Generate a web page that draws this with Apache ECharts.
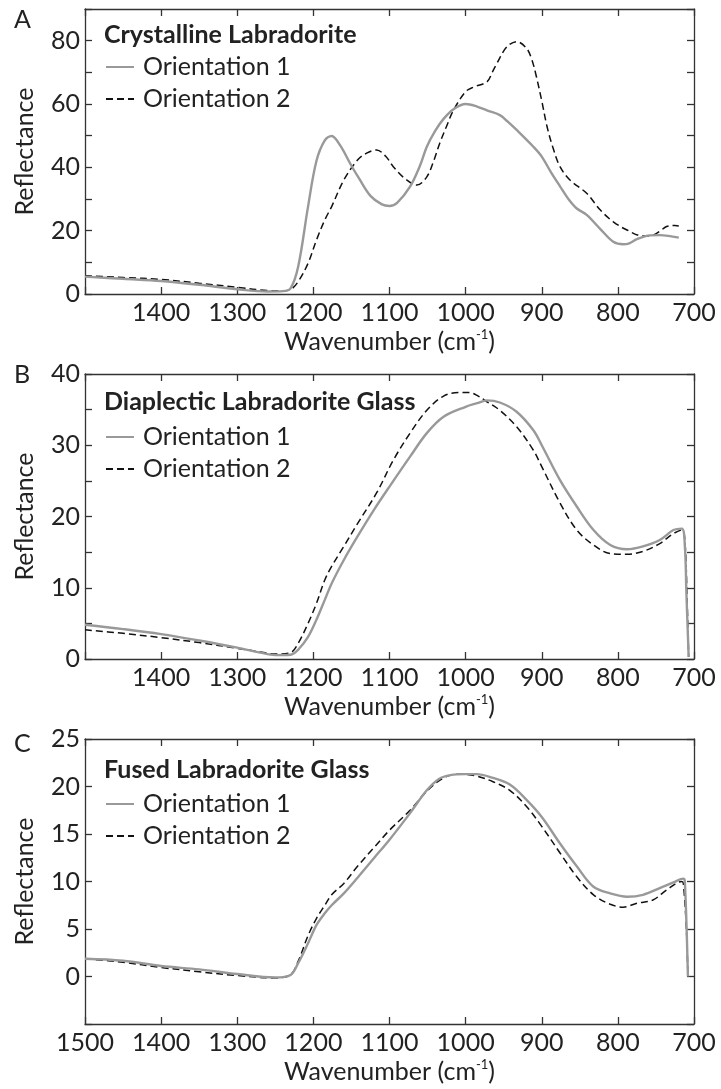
<!DOCTYPE html>
<html lang="en">
<head>
  <meta charset="UTF-8">
  <title>Labradorite reflectance</title>
  <style>
    * { margin: 0; padding: 0; }
    body { background: #fff; }
    #chart { width: 721px; height: 1089px; }
  </style>
</head>
<body>
  <div id="chart"></div>
  <script src="https://cdn.jsdelivr.net/npm/echarts@6/dist/echarts.min.js"></script>
  <script>
    // 数据：波数 / 反射率
    const wnA1 = [1500, 1450, 1400, 1350, 1300, 1260, 1240, 1230, 1220, 1207, 1196, 1185, 1176, 1165, 1150, 1140, 1125, 1110, 1100, 1090, 1073, 1060, 1051, 1040, 1029, 1015, 1000, 985, 972, 955, 945, 933, 911, 900, 888, 876, 865, 854, 841, 823, 806, 793, 785, 775, 758, 745, 730, 720];
    const rA1 = [5.5, 4.8, 4.1, 2.9, 1.5, 0.8, 0.9, 1.8, 8.6, 27.6, 42, 48.5, 49.9, 47, 40.5, 36.5, 31, 28.3, 27.8, 28.8, 33.9, 40.5, 46.5, 51.5, 55.3, 58.5, 60, 59.2, 58, 56.5, 54.5, 51.8, 46.5, 43.4, 38.5, 34, 30, 27, 25, 20.5, 16.5, 15.7, 16, 17.3, 18.5, 18.6, 18.2, 17.8];
    const wnA2 = [1500, 1450, 1400, 1350, 1300, 1260, 1240, 1230, 1220, 1207, 1196, 1185, 1176, 1160, 1142, 1130, 1117, 1105, 1095, 1080, 1064, 1051, 1042, 1034, 1025, 1016, 1000, 990, 972, 965, 959, 946, 933, 920, 913, 907, 900, 893, 885, 876, 863, 841, 823, 806, 788, 767, 754, 745, 736, 725, 720];
    const rA2 = [5.8, 5.2, 4.6, 3.4, 2.1, 1.1, 1.0, 1.4, 3.9, 9.7, 17, 23.4, 27.6, 36, 42.3, 44.5, 45.5, 43.5, 40.2, 36.5, 34.4, 37, 42, 47.6, 53, 58, 63.9, 65.3, 67, 70, 72.8, 78, 79.7, 77.6, 74, 68.6, 61, 52.8, 46, 40.2, 36, 31.8, 26.5, 22.8, 20.2, 18.3, 18.6, 19.8, 21.3, 21.6, 21.5];

    const wnB1 = [1500, 1450, 1400, 1350, 1300, 1270, 1250, 1230, 1220, 1207, 1196, 1185, 1176, 1160, 1142, 1120, 1100, 1073, 1051, 1029, 1000, 985, 972, 955, 933, 911, 900, 876, 854, 832, 810, 788, 767, 745, 727, 716, 712, 710, 707];
    const rB1 = [4.8, 4.2, 3.5, 2.6, 1.6, 0.9, 0.55, 0.6, 1.3, 3.1, 5.5, 8.3, 10.6, 13.9, 17.2, 21, 24.2, 28.4, 31.7, 34, 35.4, 35.9, 36.3, 36, 34.7, 32.1, 30, 25.1, 21.4, 18.1, 16, 15.4, 15.8, 16.7, 18.1, 18.3, 15.8, 9.3, 0.3];
    const wnB2 = [1500, 1450, 1400, 1350, 1300, 1270, 1250, 1230, 1220, 1207, 1196, 1185, 1176, 1160, 1142, 1117, 1095, 1073, 1051, 1029, 1008, 995, 985, 972, 955, 933, 911, 900, 876, 854, 832, 810, 788, 767, 745, 727, 716, 712, 709, 707];
    const rB2 = [4.1, 3.6, 3.0, 2.3, 1.5, 1.0, 0.7, 0.9, 2.2, 5.0, 7.8, 11.1, 13, 15.8, 19, 23.3, 27.9, 31.7, 34.9, 36.9, 37.4, 37.4, 37, 36.1, 34.9, 32.6, 29.3, 27, 21.9, 18.1, 16, 14.8, 14.7, 15.1, 16.2, 17.6, 18.1, 16.7, 8, 0.3];

    const wnC1 = [1500, 1450, 1400, 1350, 1300, 1250, 1230, 1220, 1207, 1196, 1185, 1176, 1160, 1142, 1120, 1100, 1073, 1051, 1035, 1020, 1000, 986, 964, 942, 920, 900, 876, 854, 832, 810, 788, 767, 745, 727, 714, 712, 708];
    const rC1 = [1.87, 1.66, 1.1, 0.75, 0.26, -0.1, 0.16, 1.4, 3.5, 5.4, 6.65, 7.5, 8.75, 10.4, 12.5, 14.4, 17.2, 19.6, 20.8, 21.2, 21.3, 21.3, 20.9, 20.2, 18.6, 16.8, 14, 11.6, 9.45, 8.75, 8.4, 8.6, 9.3, 9.9, 10.3, 10.0, 0];
    const wnC2 = [1500, 1450, 1400, 1350, 1300, 1250, 1230, 1220, 1207, 1196, 1185, 1176, 1160, 1142, 1120, 1100, 1073, 1051, 1029, 1008, 986, 964, 942, 920, 900, 876, 854, 832, 810, 793, 788, 775, 754, 736, 716, 714, 710, 708];
    const rC2 = [1.87, 1.5, 0.95, 0.5, 0.1, -0.15, 0.2, 1.6, 4.3, 6.1, 7.5, 8.6, 9.8, 11.6, 13.6, 15.4, 17.5, 19.5, 20.9, 21.3, 21.1, 20.5, 19.6, 17.9, 15.8, 13, 10.5, 8.6, 7.6, 7.3, 7.35, 7.7, 8.05, 9.1, 10.0, 9.8, 5, 0];

    const panelLetters = ['A', 'B', 'C'];
    const panelTitles = ['Crystalline Labradorite', 'Diaplectic Labradorite Glass', 'Fused Labradorite Glass'];
    const seriesNames = ['Orientation 1', 'Orientation 2'];
    // y 轴范围 [min, max, 刻度间隔, 标签间隔]
    const yRanges = [[0, 90, 10, 20], [0, 40, 5, 10], [-5, 25, 5, 5]];

    const FONT = 'Lato';
    const FS = 25;
    const gridTops = [9, 374, 739];
    const headY = [17, 384, 752];
    const legendY = [49, 419, 786];
    const letterY = [2, 357, 726];

    function pairs(x, y) {
      return x.map((v, i) => [v, y[i]]);
    }
    const dataSets = [
      [pairs(wnA1, rA1), pairs(wnA2, rA2)],
      [pairs(wnB1, rB1), pairs(wnB2, rB2)],
      [pairs(wnC1, rC1), pairs(wnC2, rC2)]
    ];

    const axisLine = { onZero: false, lineStyle: { color: '#333', width: 1.3 } };
    const tickIn = { inside: true, length: 7, lineStyle: { color: '#333', width: 1.3 } };

    const grid = [], xAxis = [], yAxis = [], series = [], title = [], legend = [];
    for (let p = 0; p < 3; p++) {
      grid.push({ left: 85, top: gridTops[p], width: 609, height: 285 });
      xAxis.push({
        type: 'value', gridIndex: p, min: 700, max: 1500, interval: 100, inverse: true,
        axisLine: axisLine, axisTick: tickIn, splitLine: { show: false },
        axisLabel: {
          color: '#222', fontFamily: FONT, fontSize: FS, margin: 6,
          formatter: v => (v === 1500 && p < 2) ? '' : String(v)
        },
        name: 'Wavenumber (cm{sup|-1})', nameLocation: 'middle', nameGap: 34,
        nameTextStyle: {
          color: '#222', fontFamily: FONT, fontSize: FS, verticalAlign: 'top',
          rich: { sup: { fontFamily: FONT, fontSize: 13, verticalAlign: 'top', padding: [0, 0, 14, 0], color: '#222' } }
        }
      });
      xAxis.push({
        type: 'value', gridIndex: p, position: 'top', min: 700, max: 1500, interval: 100, inverse: true,
        axisLine: axisLine, axisTick: tickIn, axisLabel: { show: false }, splitLine: { show: false }
      });
      const yr = yRanges[p];
      yAxis.push({
        type: 'value', gridIndex: p, min: yr[0], max: yr[1], interval: yr[2],
        axisLine: axisLine, axisTick: tickIn, splitLine: { show: false },
        axisLabel: {
          color: '#222', fontFamily: FONT, fontSize: FS, margin: 5,
          formatter: v => (v % yr[3] === 0 && v >= 0) ? String(v) : ''
        },
        name: 'Reflectance', nameLocation: 'middle', nameGap: 48,
        nameTextStyle: { color: '#222', fontFamily: FONT, fontSize: FS }
      });
      yAxis.push({
        type: 'value', gridIndex: p, position: 'right', min: yr[0], max: yr[1], interval: yr[2],
        axisLine: axisLine, axisTick: tickIn, axisLabel: { show: false }, splitLine: { show: false }
      });
      series.push({
        name: seriesNames[0], type: 'line', xAxisIndex: p * 2, yAxisIndex: p * 2,
        data: dataSets[p][0], symbol: 'none', smooth: 0.35,
        lineStyle: { color: '#999', width: 2.4 }, itemStyle: { color: '#999' }, z: 3
      });
      series.push({
        name: seriesNames[1], type: 'line', xAxisIndex: p * 2, yAxisIndex: p * 2,
        data: dataSets[p][1], symbol: 'none', smooth: 0.35,
        lineStyle: { color: '#111', width: 1.5, type: [7, 4] }, itemStyle: { color: '#111' }, z: 2
      });
      title.push({
        text: panelLetters[p], left: 9, top: letterY[p],
        textStyle: { color: '#222', fontFamily: FONT, fontSize: FS, fontWeight: 'normal', lineHeight: 26 }
      });
      title.push({
        text: panelTitles[p], left: 99, top: headY[p],
        textStyle: { color: '#222', fontFamily: FONT, fontSize: FS, fontWeight: 'bold', lineHeight: 26 }
      });
      legend.push({
        data: seriesNames, orient: 'vertical', left: 100, top: legendY[p],
        itemWidth: 28, itemHeight: 14, itemGap: 6, selectedMode: false,
        itemStyle: { opacity: 0 },
        textStyle: { color: '#222', fontFamily: FONT, fontSize: FS, lineHeight: 26, padding: [0, 0, 0, 4] }
      });
    }

    const myChart = echarts.init(document.getElementById('chart'));
    myChart.setOption({
      animation: false,
      backgroundColor: '#fff',
      title: title,
      legend: legend,
      grid: grid,
      xAxis: xAxis,
      yAxis: yAxis,
      series: series
    });
  </script>
</body>
</html>
